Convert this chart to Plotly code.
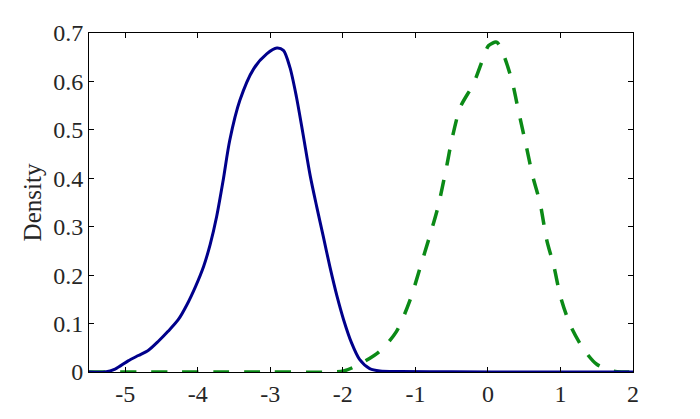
"""Two kernel density curves: solid navy (left) and dashed green (right)."""

import plotly.graph_objects as go

# Solid navy curve
blue_x = [-5.5, -5.28, -5.14, -4.96, -4.82, -4.68, -4.54, -4.41, -4.27, -4.15,
          -4.03, -3.92, -3.83, -3.74, -3.65, -3.56, -3.42, -3.23, -3.05, -2.91,
          -2.82, -2.73, -2.64, -2.55, -2.45, -2.36, -2.27, -2.18, -2.08, -1.99,
          -1.88, -1.77, -1.63, -1.49, -1.2, -0.5, 0.5, 2.0]
blue_y = [0.0, 0.0, 0.006, 0.023, 0.034, 0.045, 0.064, 0.084, 0.108, 0.139,
          0.177, 0.218, 0.263, 0.321, 0.396, 0.478, 0.561, 0.626, 0.657, 0.669,
          0.664, 0.629, 0.568, 0.492, 0.405, 0.341, 0.280, 0.218, 0.156, 0.108,
          0.060, 0.026, 0.007, 0.002, 0.001, 0.0005, 0.0, 0.0]

# Dashed green curve
green_x = [-5.5, -3.0, -2.15, -1.99, -1.77, -1.49, -1.26, -1.07, -0.94, -0.80,
           -0.69, -0.57, -0.50, -0.38, -0.20, -0.06, 0.01, 0.12, 0.21, 0.33,
           0.42, 0.53, 0.62, 0.72, 0.81, 0.91, 1.00, 1.14, 1.32, 1.50, 1.73,
           1.85, 2.0]
green_y = [0.0, 0.0, 0.0, 0.002, 0.016, 0.043, 0.084, 0.150, 0.213, 0.282,
           0.340, 0.424, 0.478, 0.547, 0.595, 0.650, 0.674, 0.681, 0.657, 0.602,
           0.540, 0.465, 0.403, 0.348, 0.273, 0.218, 0.156, 0.095, 0.047, 0.016,
           0.002, 0.0, 0.0]

x_ticks = [-5, -4, -3, -2, -1, 0, 1, 2]
x_tick_text = ["-5", "-4", "-3", "-2", "-1", "0", "1", "2"]
y_ticks = [0, 0.1, 0.2, 0.3, 0.4, 0.5, 0.6, 0.7]
y_tick_text = ["0", "0.1", "0.2", "0.3", "0.4", "0.5", "0.6", "0.7"]

FONT = "Liberation Serif"

fig = go.Figure()
fig.add_trace(go.Scatter(
    x=green_x, y=green_y, mode="lines", line_shape="spline",
    line=dict(color="#0b8a16", width=3.5, dash="16px,15px", smoothing=0.8),
    showlegend=False,
))
fig.add_trace(go.Scatter(
    x=blue_x, y=blue_y, mode="lines", line_shape="spline",
    line=dict(color="#00008b", width=3, smoothing=0.8),
    showlegend=False,
))

axis_common = dict(
    showline=True, linecolor="black", linewidth=1, mirror="ticks",
    ticks="inside", ticklen=5, tickcolor="black", tickwidth=1,
    showgrid=False, zeroline=False,
    tickfont=dict(family=FONT, size=24, color="#262626"),
)
fig.update_xaxes(range=[-5.5, 2], tickvals=x_ticks, ticktext=x_tick_text, **axis_common)
fig.update_yaxes(
    range=[0, 0.7], tickvals=y_ticks, ticktext=y_tick_text,
    title=dict(text="Density", font=dict(family=FONT, size=25, color="#262626"), standoff=4),
    **axis_common,
)
# the page body adds an 8px margin, so the figure is 8px smaller on each axis
fig.update_layout(
    width=692, height=411,
    margin=dict(l=81, r=67, t=24, b=46),
    font=dict(family=FONT, size=24, color="#262626"),
    plot_bgcolor="white", paper_bgcolor="white",
)

fig.write_html("out.html")
